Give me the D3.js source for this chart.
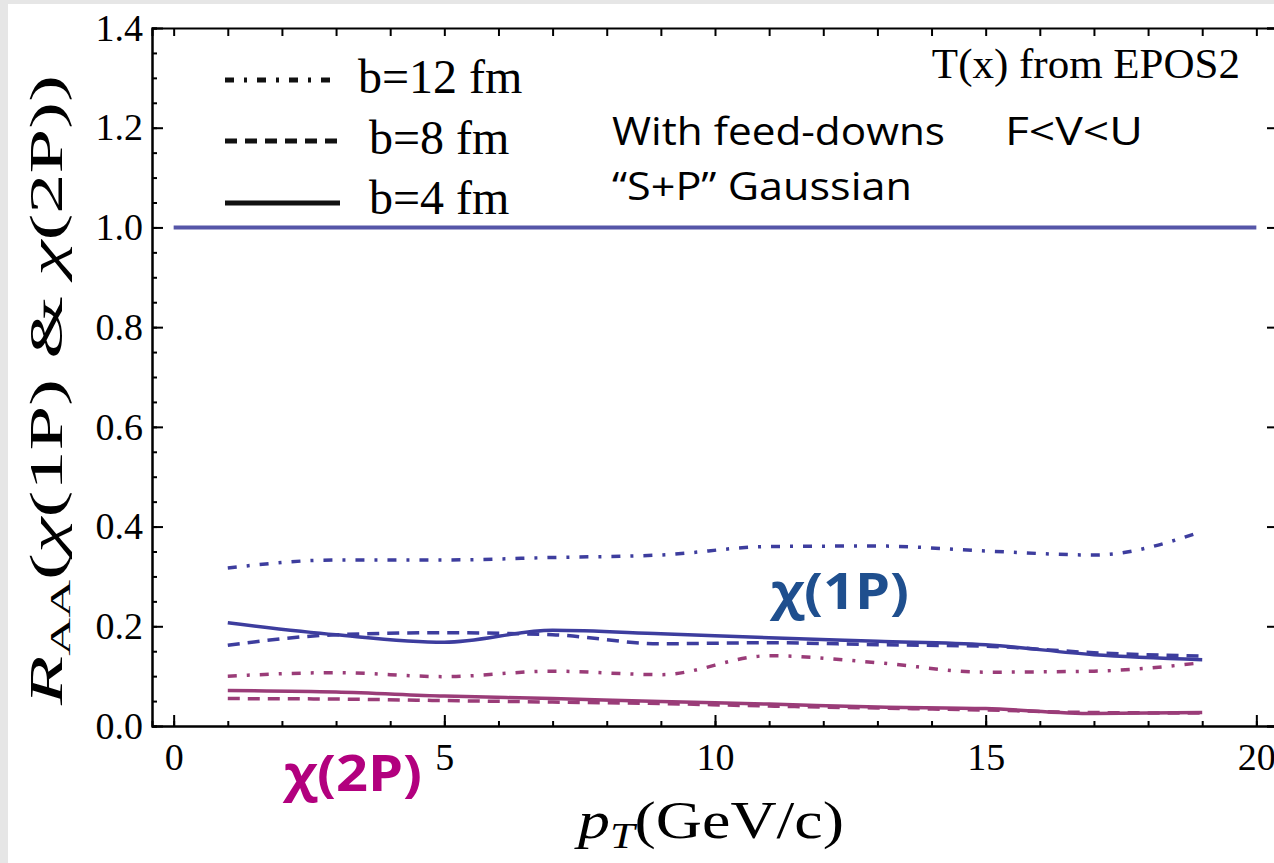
<!DOCTYPE html>
<html>
<head>
<meta charset="utf-8">
<script src="https://cdn.jsdelivr.net/npm/d3@7"></script>
<style>
  html, body { margin: 0; padding: 0; background: #e6e6e6; }
  svg { display: block; }
</style>
</head>
<body>
<div id="chart"></div>
<script>
// pT grid (GeV/c) and R_AA values
var ptValues = [1, 3, 5, 7, 9, 11, 13, 15, 17, 19];
var chi1P_b12 = [0.317, 0.333, 0.333, 0.338, 0.343, 0.360, 0.361, 0.351, 0.343, 0.390];
var chi1P_b8  = [0.162, 0.183, 0.187, 0.183, 0.165, 0.167, 0.163, 0.160, 0.147, 0.140];
var chi1P_b4  = [0.207, 0.183, 0.168, 0.192, 0.185, 0.177, 0.170, 0.163, 0.143, 0.133];
var chi2P_b12 = [0.100, 0.107, 0.099, 0.110, 0.103, 0.141, 0.127, 0.108, 0.110, 0.127];
var chi2P_b8  = [0.055, 0.054, 0.051, 0.048, 0.045, 0.040, 0.036, 0.032, 0.027, 0.026];
var chi2P_b4  = [0.071, 0.068, 0.060, 0.055, 0.049, 0.044, 0.038, 0.035, 0.025, 0.027];

// unity reference line
var refX = [0, 20];
var refY = [1, 1];

var xTicks = [0, 5, 10, 15, 20];
var yTicks = [0, 0.2, 0.4, 0.6, 0.8, 1.0, 1.2, 1.4];
var legendLabels = ["b=12 fm", "b=8 fm", "b=4 fm"];

var width = 1274;
var height = 863;

var blue = "#3d3d9e";
var purple = "#9a3c78";
var dashDot = "9,10,3,10";
var dashed = "12,8";

var svg = d3.select("#chart")
    .append("svg")
    .attr("width", width)
    .attr("height", height);

svg.append("rect")
    .attr("x", 8)
    .attr("y", 4)
    .attr("width", width - 8)
    .attr("height", height - 4)
    .attr("fill", "#ffffff");

var xScale = d3.scaleLinear()
    .domain([-0.4, 20.4])
    .range([152, 1278]);
var yScale = d3.scaleLinear()
    .domain([0, 1.4])
    .range([726, 28]);

var serif = "'Liberation Serif', 'Times New Roman', serif";
var sans = "'Open Sans', 'Noto Sans', sans-serif";

// ---- axes / frame ----
function styleAxis(g) {
    g.selectAll("path").attr("stroke", "#000").attr("stroke-width", 2);
    g.selectAll("line").attr("stroke", "#000").attr("stroke-width", 2);
    g.selectAll("text")
        .attr("fill", "#000")
        .style("font-family", serif)
        .style("font-size", "38px");
}

var minorY = d3.range(0, 1.4001, 0.05);
var minorX = d3.range(0, 20.001, 1);

// left
svg.append("g")
    .attr("transform", "translate(152,0)")
    .call(d3.axisLeft(yScale).tickValues(minorY).tickSize(-5).tickFormat(""))
    .call(styleAxis);
svg.append("g")
    .attr("transform", "translate(152,0)")
    .call(d3.axisLeft(yScale).tickValues(yTicks).tickSizeInner(-11).tickSizeOuter(0)
        .tickPadding(9).tickFormat(d3.format(".1f")))
    .call(styleAxis);

// bottom
svg.append("g")
    .attr("transform", "translate(0,726)")
    .call(d3.axisBottom(xScale).tickValues(minorX).tickSize(-5).tickFormat(""))
    .call(styleAxis);
svg.append("g")
    .attr("transform", "translate(0,726)")
    .call(d3.axisBottom(xScale).tickValues(xTicks).tickSizeInner(-11).tickSizeOuter(0)
        .tickPadding(17).tickFormat(d3.format("d")))
    .call(styleAxis);

// top
svg.append("g")
    .attr("transform", "translate(0,28)")
    .call(d3.axisTop(xScale).tickValues(minorX).tickSize(-8).tickFormat(""))
    .call(styleAxis);

// right
svg.append("g")
    .attr("transform", "translate(1278,0)")
    .call(d3.axisRight(yScale).tickValues(minorY).tickSize(-4).tickFormat(""))
    .call(styleAxis);
svg.append("g")
    .attr("transform", "translate(1278,0)")
    .call(d3.axisRight(yScale).tickValues(yTicks).tickSize(-11).tickFormat(""))
    .call(styleAxis);

// ---- lines ----
var line = d3.line()
    .curve(d3.curveMonotoneX)
    .x(function (d) { return xScale(d[0]); })
    .y(function (d) { return yScale(d[1]); });

svg.append("path")
    .datum(d3.zip(refX, refY))
    .attr("d", line)
    .attr("fill", "none")
    .attr("stroke", "#5656a8")
    .attr("stroke-width", 4);

var series = [
    { values: chi1P_b12, color: blue, dash: dashDot },
    { values: chi1P_b8, color: blue, dash: dashed },
    { values: chi1P_b4, color: blue, dash: null },
    { values: chi2P_b12, color: purple, dash: dashDot },
    { values: chi2P_b8, color: purple, dash: dashed },
    { values: chi2P_b4, color: purple, dash: null }
];

svg.selectAll("path.series")
    .data(series)
    .enter()
    .append("path")
    .attr("class", "series")
    .attr("d", function (s) { return line(d3.zip(ptValues, s.values)); })
    .attr("fill", "none")
    .attr("stroke", function (s) { return s.color; })
    .attr("stroke-width", 3.5)
    .attr("stroke-dasharray", function (s) { return s.dash; });

// ---- legend ----
var legendDash = [dashDot, dashed, null];
var legendLineY = [80, 141, 203];
var legendTextX = [358, 369, 369];
var legendTextY = [93, 154, 214];

legendLabels.forEach(function (lab, i) {
    svg.append("line")
        .attr("x1", 225)
        .attr("x2", 340)
        .attr("y1", legendLineY[i])
        .attr("y2", legendLineY[i])
        .attr("stroke", "#111")
        .attr("stroke-width", 5)
        .attr("stroke-dasharray", legendDash[i]);
    svg.append("text")
        .attr("x", legendTextX[i])
        .attr("y", legendTextY[i])
        .style("font-family", serif)
        .style("font-size", "48px")
        .attr("fill", "#000")
        .text(lab);
});

// ---- annotations ----
svg.append("text")
    .attr("x", 1240)
    .attr("y", 78)
    .attr("text-anchor", "end")
    .style("font-family", serif)
    .style("font-size", "43px")
    .text("T(x) from EPOS2");

function sansText(txt, x, y, len) {
    svg.append("text")
        .attr("x", x)
        .attr("y", y)
        .attr("textLength", len)
        .attr("lengthAdjust", "spacingAndGlyphs")
        .style("font-family", sans)
        .style("font-size", "38px")
        .attr("fill", "#000")
        .text(txt);
}
sansText("With feed-downs", 612, 145, 333);
sansText("F<V<U", 1005, 145, 138);
sansText("\u201cS+P\u201d Gaussian", 612, 200, 300);

function chiLabel(txt, x, y, color) {
    svg.append("text")
        .attr("x", x)
        .attr("y", y)
        .attr("textLength", 138)
        .attr("lengthAdjust", "spacingAndGlyphs")
        .style("font-family", sans)
        .style("font-weight", "bold")
        .style("font-size", "50px")
        .attr("fill", color)
        .text(txt);
}
chiLabel("\u03c7(1P)", 771, 609, "#1f4f8e");
chiLabel("\u03c7(2P)", 284, 791, "#b2007e");

// ---- axis titles ----
var xLabel = svg.append("text")
    .attr("x", 578)
    .attr("y", 838)
    .attr("textLength", 266)
    .attr("lengthAdjust", "spacingAndGlyphs")
    .style("font-family", serif)
    .style("font-size", "52px");
xLabel.append("tspan").style("font-style", "italic").text("p");
xLabel.append("tspan").style("font-style", "italic").style("font-size", "36px")
    .attr("dy", 10).text("T");
xLabel.append("tspan").attr("dy", -10).text("(GeV/c)");

var yLabel = svg.append("text")
    .attr("transform", "translate(62,390) rotate(-90)")
    .attr("text-anchor", "middle")
    .attr("textLength", 630)
    .attr("lengthAdjust", "spacingAndGlyphs")
    .style("font-family", serif)
    .style("font-size", "46px");
yLabel.append("tspan").style("font-style", "italic").text("R");
yLabel.append("tspan").style("font-size", "30px").attr("dy", 8).text("AA");
yLabel.append("tspan").attr("dy", -8).text("(");
yLabel.append("tspan").style("font-style", "italic").text("\u03c7");
yLabel.append("tspan").text("(1P) & ");
yLabel.append("tspan").style("font-style", "italic").text("\u03c7");
yLabel.append("tspan").text("(2P))");
</script>
</body>
</html>
